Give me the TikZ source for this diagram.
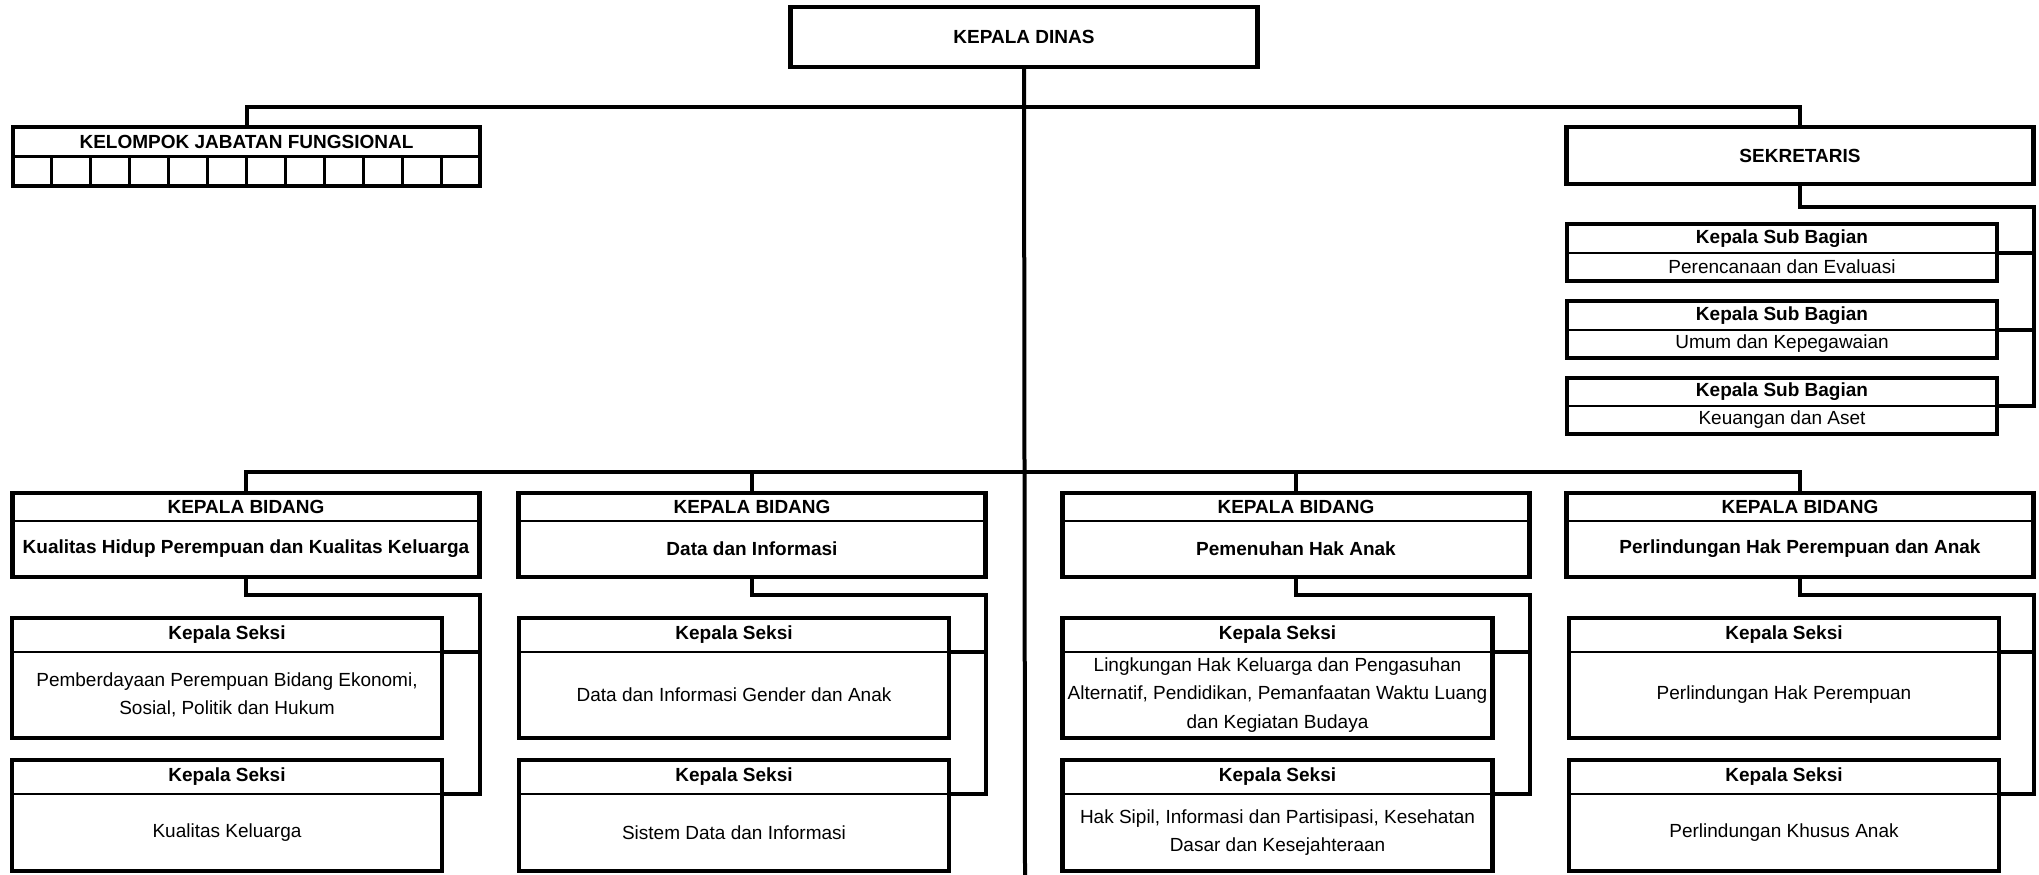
\documentclass[tikz,border=0pt]{standalone}
\usepackage{fontspec}
\setmainfont{Liberation Sans}

\begin{document}
\begin{tikzpicture}
  [x=1pt,y=-1pt,
   every node/.style={inner sep=0pt,outer sep=0pt,align=center,font=\fontsize{19}{28.5}\selectfont},
   hd/.style={font=\fontsize{19}{28.5}\selectfont\bfseries},
   wide/.style={minimum width=467pt},
   narrow/.style={minimum width=430pt},
   frame/.style={line width=4.5pt},
   rule/.style={line width=2.5pt},
   link/.style={line width=4pt},
   cell/.style={draw,line width=3pt,minimum width=38.92pt,minimum height=30pt}]
  \useasboundingbox (0,0) rectangle (2039,875);

  % top level
  \node[hd,wide,draw,frame,minimum height=60pt] (kd) at (1024,37) {KEPALA DINAS};
  \node[hd,wide,draw,frame,minimum height=57pt] (sek) at (1800,155.5) {SEKRETARIS};
  \node[hd,wide,minimum height=29pt] (kjf) at (246.5,141.5) {KELOMPOK JABATAN FUNGSIONAL};
  \foreach \i in {1,...,12}
    \node[cell] (kjf\i) at ({13+38.92*(\i-0.5)},171) {};

  % sub bagian
  \node[hd,narrow,minimum height=29pt] (sub1-h) at (1782,238.5) {Kepala Sub Bagian};
  \node[narrow,minimum height=28pt] (sub1-b) at (1782,267) {Perencanaan dan Evaluasi};
  \node[hd,narrow,minimum height=29pt] (sub2-h) at (1782,315.5) {Kepala Sub Bagian};
  \node[narrow,minimum height=28pt] (sub2-b) at (1782,344) {Umum dan Kepegawaian};
  \node[hd,narrow,minimum height=28pt] (sub3-h) at (1782,392) {Kepala Sub Bagian};
  \node[narrow,minimum height=28pt] (sub3-b) at (1782,420) {Keuangan dan Aset};

  % bidang
  \node[hd,wide,minimum height=28pt] (kb1-h) at (246,507) {KEPALA BIDANG};
  \node[hd,wide,minimum height=56pt] (kb1-b) at (246,549) {Kualitas Hidup Perempuan dan Kualitas Keluarga};
  \node[hd,wide,minimum height=28pt] (kb2-h) at (752,507) {KEPALA BIDANG};
  \node[hd,wide,minimum height=56pt] (kb2-b) at (752,549) {Data dan Informasi};
  \node[hd,wide,minimum height=28pt] (kb3-h) at (1296,507) {KEPALA BIDANG};
  \node[hd,wide,minimum height=56pt] (kb3-b) at (1296,549) {Pemenuhan Hak Anak};
  \node[hd,wide,minimum height=28pt] (kb4-h) at (1800,507) {KEPALA BIDANG};
  \node[hd,wide,minimum height=56pt] (kb4-b) at (1800,549) {Perlindungan Hak Perempuan dan Anak};

  % seksi
  \node[hd,narrow,minimum height=34pt] (ks11-h) at (227,635) {Kepala Seksi};
  \node[narrow,minimum height=86pt] (ks11-b) at (227,695) {Pemberdayaan Perempuan Bidang Ekonomi,\\Sosial, Politik dan Hukum};
  \node[hd,narrow,minimum height=34pt] (ks12-h) at (227,777) {Kepala Seksi};
  \node[narrow,minimum height=77pt] (ks12-b) at (227,832.5) {Kualitas Keluarga};
  \node[hd,narrow,minimum height=34pt] (ks21-h) at (734,635) {Kepala Seksi};
  \node[narrow,minimum height=86pt] (ks21-b) at (734,695) {Data dan Informasi Gender dan Anak};
  \node[hd,narrow,minimum height=34pt] (ks22-h) at (734,777) {Kepala Seksi};
  \node[narrow,minimum height=77pt] (ks22-b) at (734,832.5) {Sistem Data dan Informasi};
  \node[hd,narrow,minimum height=34pt] (ks31-h) at (1277.5,635) {Kepala Seksi};
  \node[narrow,minimum height=86pt] (ks31-b) at (1277.5,695) {Lingkungan Hak Keluarga dan Pengasuhan\\Alternatif, Pendidikan, Pemanfaatan Waktu Luang\\dan Kegiatan Budaya};
  \node[hd,narrow,minimum height=34pt] (ks32-h) at (1277.5,777) {Kepala Seksi};
  \node[narrow,minimum height=77pt] (ks32-b) at (1277.5,832.5) {Hak Sipil, Informasi dan Partisipasi, Kesehatan\\Dasar dan Kesejahteraan};
  \node[hd,narrow,minimum height=34pt] (ks41-h) at (1784,635) {Kepala Seksi};
  \node[narrow,minimum height=86pt] (ks41-b) at (1784,695) {Perlindungan Hak Perempuan};
  \node[hd,narrow,minimum height=34pt] (ks42-h) at (1784,777) {Kepala Seksi};
  \node[narrow,minimum height=77pt] (ks42-b) at (1784,832.5) {Perlindungan Khusus Anak};

  % frames of the split boxes
  \foreach \n in {sub1,sub2,sub3,kb1,kb2,kb3,kb4,ks11,ks12,ks21,ks22,ks31,ks32,ks41,ks42} {
    \draw[frame] (\n-h.north west) rectangle (\n-b.south east);
    \draw[rule] (\n-h.south west) -- (\n-h.south east);
  }
  \draw[frame] (kjf.north west) rectangle (kjf12.south east);
  \draw[rule] (kjf.south west) -- (kjf.south east);

  % lines
  \coordinate (top) at (1025,107);
  \coordinate (mid) at (1025,472);
  \coordinate (base) at (1025,875);
  \draw[link] (kd.south) -- (base);
  \draw[link] (kjf.north) |- (top) -| (sek.north);
  \draw[link] (kb1-h.north) |- (mid) -| (kb4-h.north);
  \foreach \n in {kb2,kb3}
    \draw[link] (\n-h.north) -- (\n-h.north |- mid);
  \draw[link] (sek.south) -- ++(0,23) -| (sub3-h.south -| sek.east) -- (sub3-h.south east);
  \foreach \n in {sub1,sub2}
    \draw[link] (\n-h.south east) -- (\n-h.south east -| sek.east);
  \foreach \c in {1,...,4} {
    \draw[link] (kb\c-b.south) -- ++(0,18) -| (ks\c2-h.south -| kb\c-b.east) -- (ks\c2-h.south east);
    \draw[link] (ks\c1-h.south east) -- (ks\c1-h.south east -| kb\c-b.east);
  }
\end{tikzpicture}
\end{document}
